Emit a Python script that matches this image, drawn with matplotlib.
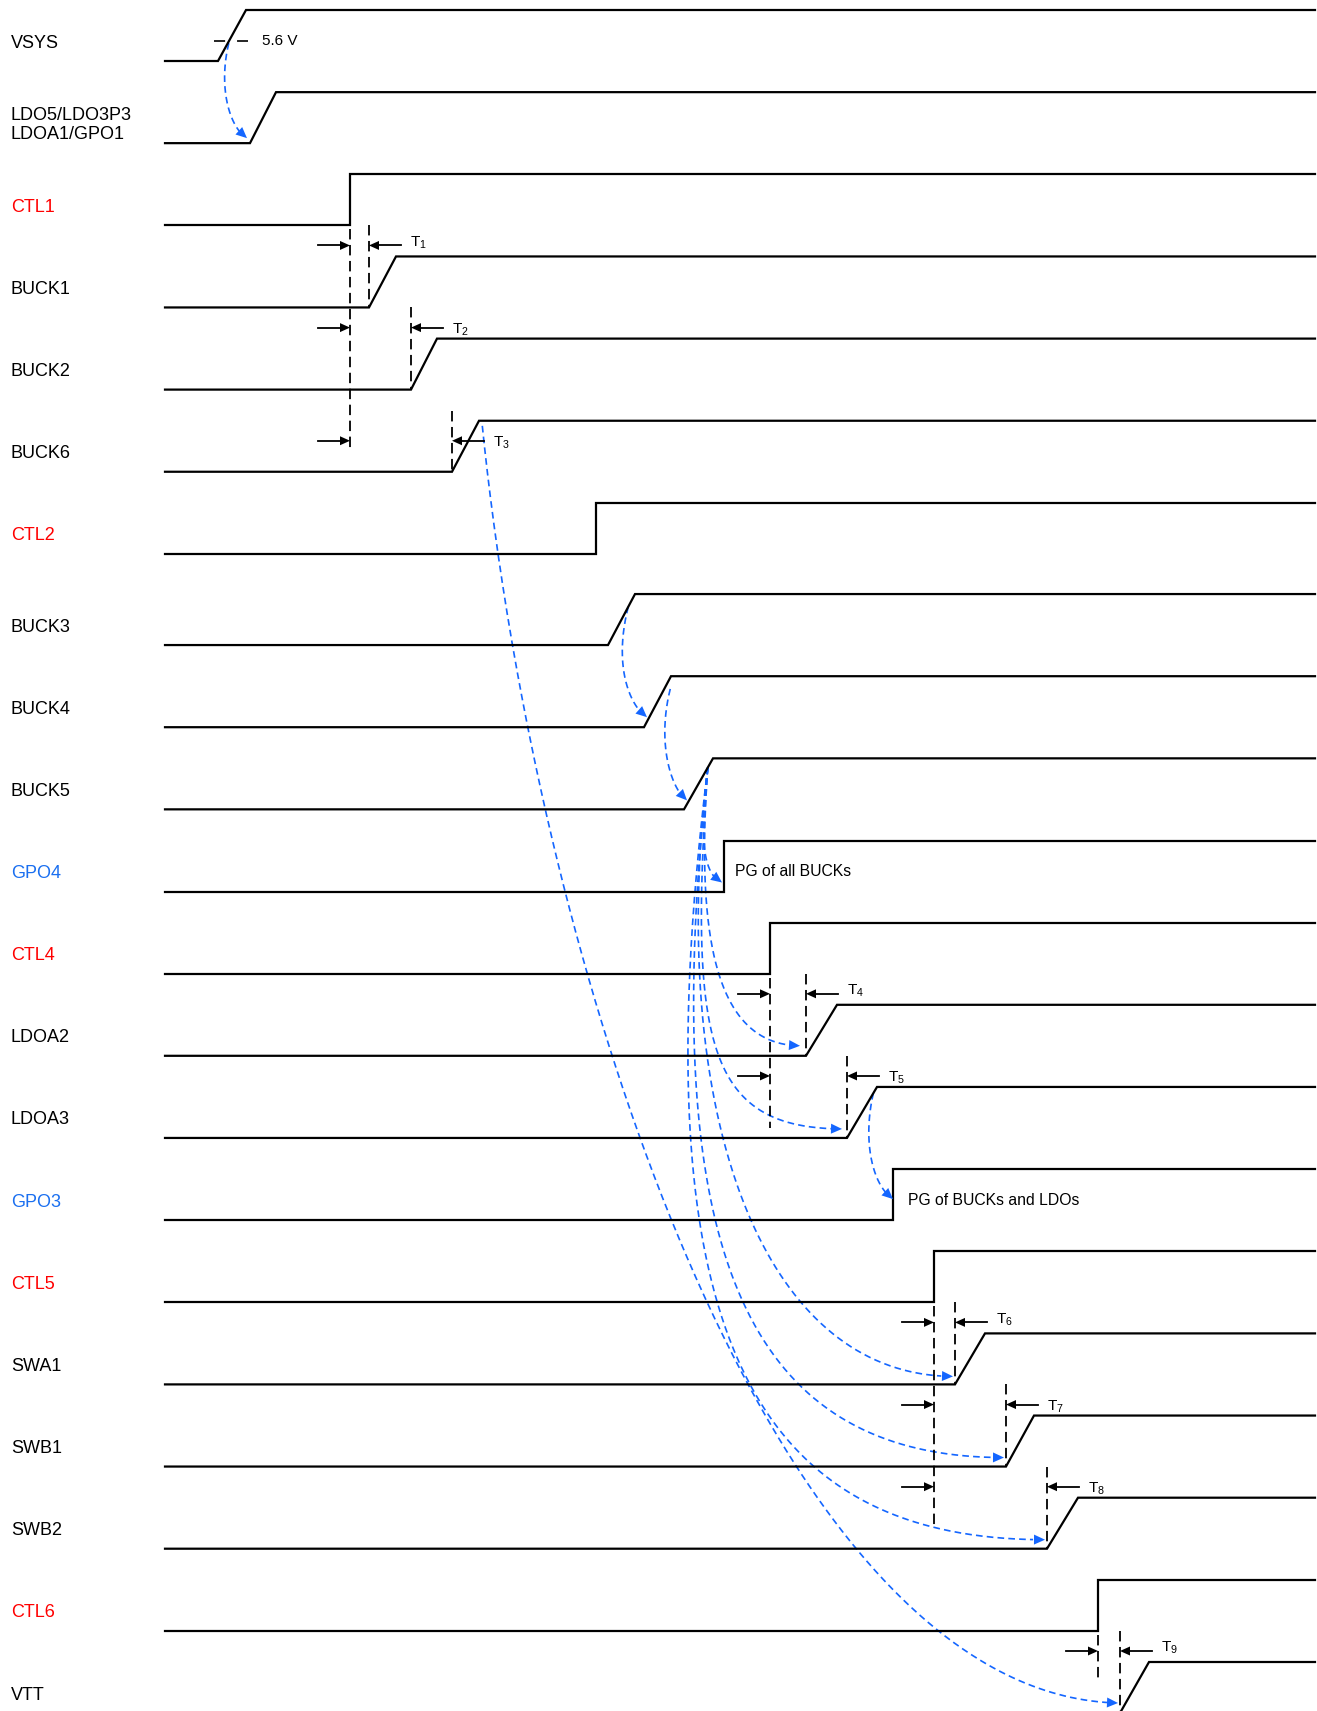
import numpy as np
import matplotlib.pyplot as plt
from matplotlib.patches import Polygon

plt.rcParams['font.family'] = ['Liberation Sans', 'DejaVu Sans']
plt.rcParams['lines.scale_dashes'] = False
plt.rcParams['mathtext.fontset'] = 'custom'
plt.rcParams['mathtext.rm'] = 'Liberation Sans'
plt.rcParams['mathtext.default'] = 'regular'

# ---------------------------------------------------------------------------
# Sequencia de power-up (eixo x = tempo, em px do diagrama)
# ---------------------------------------------------------------------------
nomes = ['VSYS', 'LDO5/LDO3P3\nLDOA1/GPO1', 'CTL1', 'BUCK1', 'BUCK2', 'BUCK6',
         'CTL2', 'BUCK3', 'BUCK4', 'BUCK5', 'GPO4', 'CTL4', 'LDOA2', 'LDOA3',
         'GPO3', 'CTL5', 'SWA1', 'SWB1', 'SWB2', 'CTL6', 'VTT']
tipos = ['rail', 'rail', 'ctl', 'rail', 'rail', 'rail',
         'ctl', 'rail', 'rail', 'rail', 'gpo', 'ctl', 'rail', 'rail',
         'gpo', 'ctl', 'rail', 'rail', 'rail', 'ctl', 'rail']
inicio_subida = [218, 250, 350, 369, 411, 452,
                 596, 608, 644, 684, 724, 770, 806, 847,
                 893, 934, 955, 1006, 1047, 1098, 1120]
tempo_subida = [28, 26, 0, 27, 26, 27,
                0, 27, 27, 29, 0, 0, 31, 30,
                0, 0, 30, 28, 31, 0, 29]

# atrasos T1..T9: (sinal de controle, sinal que responde)
atraso_ref = [2, 2, 2, 11, 11, 15, 15, 15, 19]
atraso_alvo = [3, 4, 5, 12, 13, 16, 17, 18, 20]

# dependencias (setas azuis): origem -> destino
dependencias = [(0, 1), (5, 20), (7, 8), (8, 9), (9, 10), (9, 12),
                (9, 13), (13, 14), (9, 16), (9, 17), (9, 18)]

notas = [(0, '5.6 V'), (10, 'PG of all BUCKs'), (14, 'PG of BUCKs and LDOs')]

# ---------------------------------------------------------------------------
# Layout
# ---------------------------------------------------------------------------
X0, X1 = 165, 1315
PASSO, AMPL = 82.15, 51
COR = {'rail': 'black', 'ctl': '#FF0000', 'gpo': '#1A6FF0'}
AZUL = '#1466FF'

# fim da linha tracejada de cada borda de controle
fim_ref = {2: 452, 11: 1128, 15: 1528, 19: 1682}

# forma de cada seta azul: (fracao na rampa, dx inicio, offset ponta,
#                           controle 1 rel. inicio, controle 2 rel. ponta)
forma_dep = [
    (0.65, 1, (-3, -5), (-11, 45), (-17, -10)),
    (0.10, 6, (-2, -10), (58, 572), (-338, -8)),
    (0.25, 0, (3, -10), (-16, 63), (-15, -9)),
    (0.25, 6, (3, -9), (-14, 56), (-15, -10)),
    (0.18, 0, (-2, -9), (-10, 82), (-16, -7)),
    (0.18, 0, (-6, -10), (-13, 182), (-80, -1)),
    (0.18, 0, (-5, -9), (-20, 282), (-132, -1)),
    (0.12, 0, (0, -21), (-11, 47), (-21, -14)),
    (0.18, 0, (-2, -8), (-40, 332), (-198, -1)),
    (0.18, 0, (-2, -9), (-53, 492), (-254, 0)),
    (0.18, 0, (-2, -9), (-68, 552), (-300, 0)),
]


def alto(i):
    return 10 + PASSO * i + (9 if i >= 7 else 0)


def baixo(i):
    return alto(i) + AMPL


def ponta(ax, tip, direcao, cor, comp=11, larg=5):
    d = np.asarray(direcao, float)
    d = d / np.hypot(*d)
    n = np.array([-d[1], d[0]])
    tip = np.asarray(tip, float)
    base = tip - d * comp
    ax.add_patch(Polygon([tip, base + n * larg, base - n * larg],
                         closed=True, color=cor, lw=0, zorder=5))


def bezier(p0, p1, p2, p3, n=300):
    t = np.linspace(0, 1, n)[:, None]
    return ((1 - t) ** 3 * p0 + 3 * (1 - t) ** 2 * t * p1
            + 3 * (1 - t) * t ** 2 * p2 + t ** 3 * p3)


fig = plt.figure(figsize=(13.17, 17.11), dpi=100)
ax = fig.add_axes([0, 0, 1, 1])
ax.set_xlim(0, 1317)
ax.set_ylim(1711, 0)
ax.axis('off')

# formas de onda
for i, (nome, tipo, t0, tr) in enumerate(zip(nomes, tipos, inicio_subida, tempo_subida)):
    ax.plot([X0, t0, t0 + tr, X1], [baixo(i), baixo(i), alto(i), alto(i)],
            color='black', lw=1.6, solid_joinstyle='miter', zorder=3)
    ax.text(11, alto(i) + 33, nome, color=COR[tipo], fontsize=13,
            ha='left', va='center', linespacing=1.2)

# marcas de atraso T1..T9
tracejado = dict(color='black', lw=1.3, dashes=(7.5, 4), zorder=4)
grupos = {}
for k, (r, a) in enumerate(zip(atraso_ref, atraso_alvo)):
    grupos.setdefault(r, []).append(a)
    xr = inicio_subida[r] + tempo_subida[r]
    xa = inicio_subida[a]
    y = alto(a) + (20 if a == 5 else -11)
    ax.plot([xa, xa], [max(baixo(a - 1), y - 30), baixo(a)], **tracejado)
    # seta da esquerda -> borda do controle
    ax.plot([xr - 32, xr - 9], [y, y], color='black', lw=1.3, zorder=4)
    ponta(ax, (xr, y), (1, 0), 'black', comp=10, larg=4.5)
    # seta da direita -> inicio da rampa
    ax.plot([xa + 32, xa + 9], [y, y], color='black', lw=1.3, zorder=4)
    ponta(ax, (xa, y), (-1, 0), 'black', comp=10, larg=4.5)
    primeiro = grupos[r][0] == a
    ax.text(xa + 41, y + (1 if primeiro else 6), f'T$_{{{k + 1}}}$',
            fontsize=11, ha='left', va='baseline')

for r in grupos:
    xr = inicio_subida[r] + tempo_subida[r]
    ax.plot([xr, xr], [baixo(r) + 4, fim_ref[r]], **tracejado)

# limiar de 5.6 V no VSYS
ax.plot([214, 248], [41, 41], color='black', lw=1.2, dashes=(8, 8.6), zorder=4)

# setas de dependencia
for (o, d), (frac, sdx, (tdx, tdy), c1, c2) in zip(dependencias, forma_dep):
    t0, tr = inicio_subida[o], tempo_subida[o]
    p0 = np.array([t0 + tr - frac * tr + sdx, alto(o) + frac * AMPL])
    p3 = np.array([inicio_subida[d] + tdx, baixo(d) + tdy])
    pts = bezier(p0, p0 + np.array(c1), p3 + np.array(c2), p3)
    dist = np.hypot(*(pts - p3).T)
    corpo = pts[dist >= 10]
    ax.plot(corpo[:, 0], corpo[:, 1], color=AZUL, lw=1.2, dashes=(4.8, 3),
            zorder=2)
    ponta(ax, p3, p3 - corpo[-1], AZUL, comp=11, larg=5)

# anotacoes
for i, txt in notas:
    if i == 0:
        ax.text(262, 41, txt, fontsize=11, ha='left', va='center')
    else:
        ax.text(inicio_subida[i] + (11 if i == 10 else 15), alto(i) + 31, txt,
                fontsize=11.3, ha='left', va='center')

fig.savefig('out.png', dpi=100)
